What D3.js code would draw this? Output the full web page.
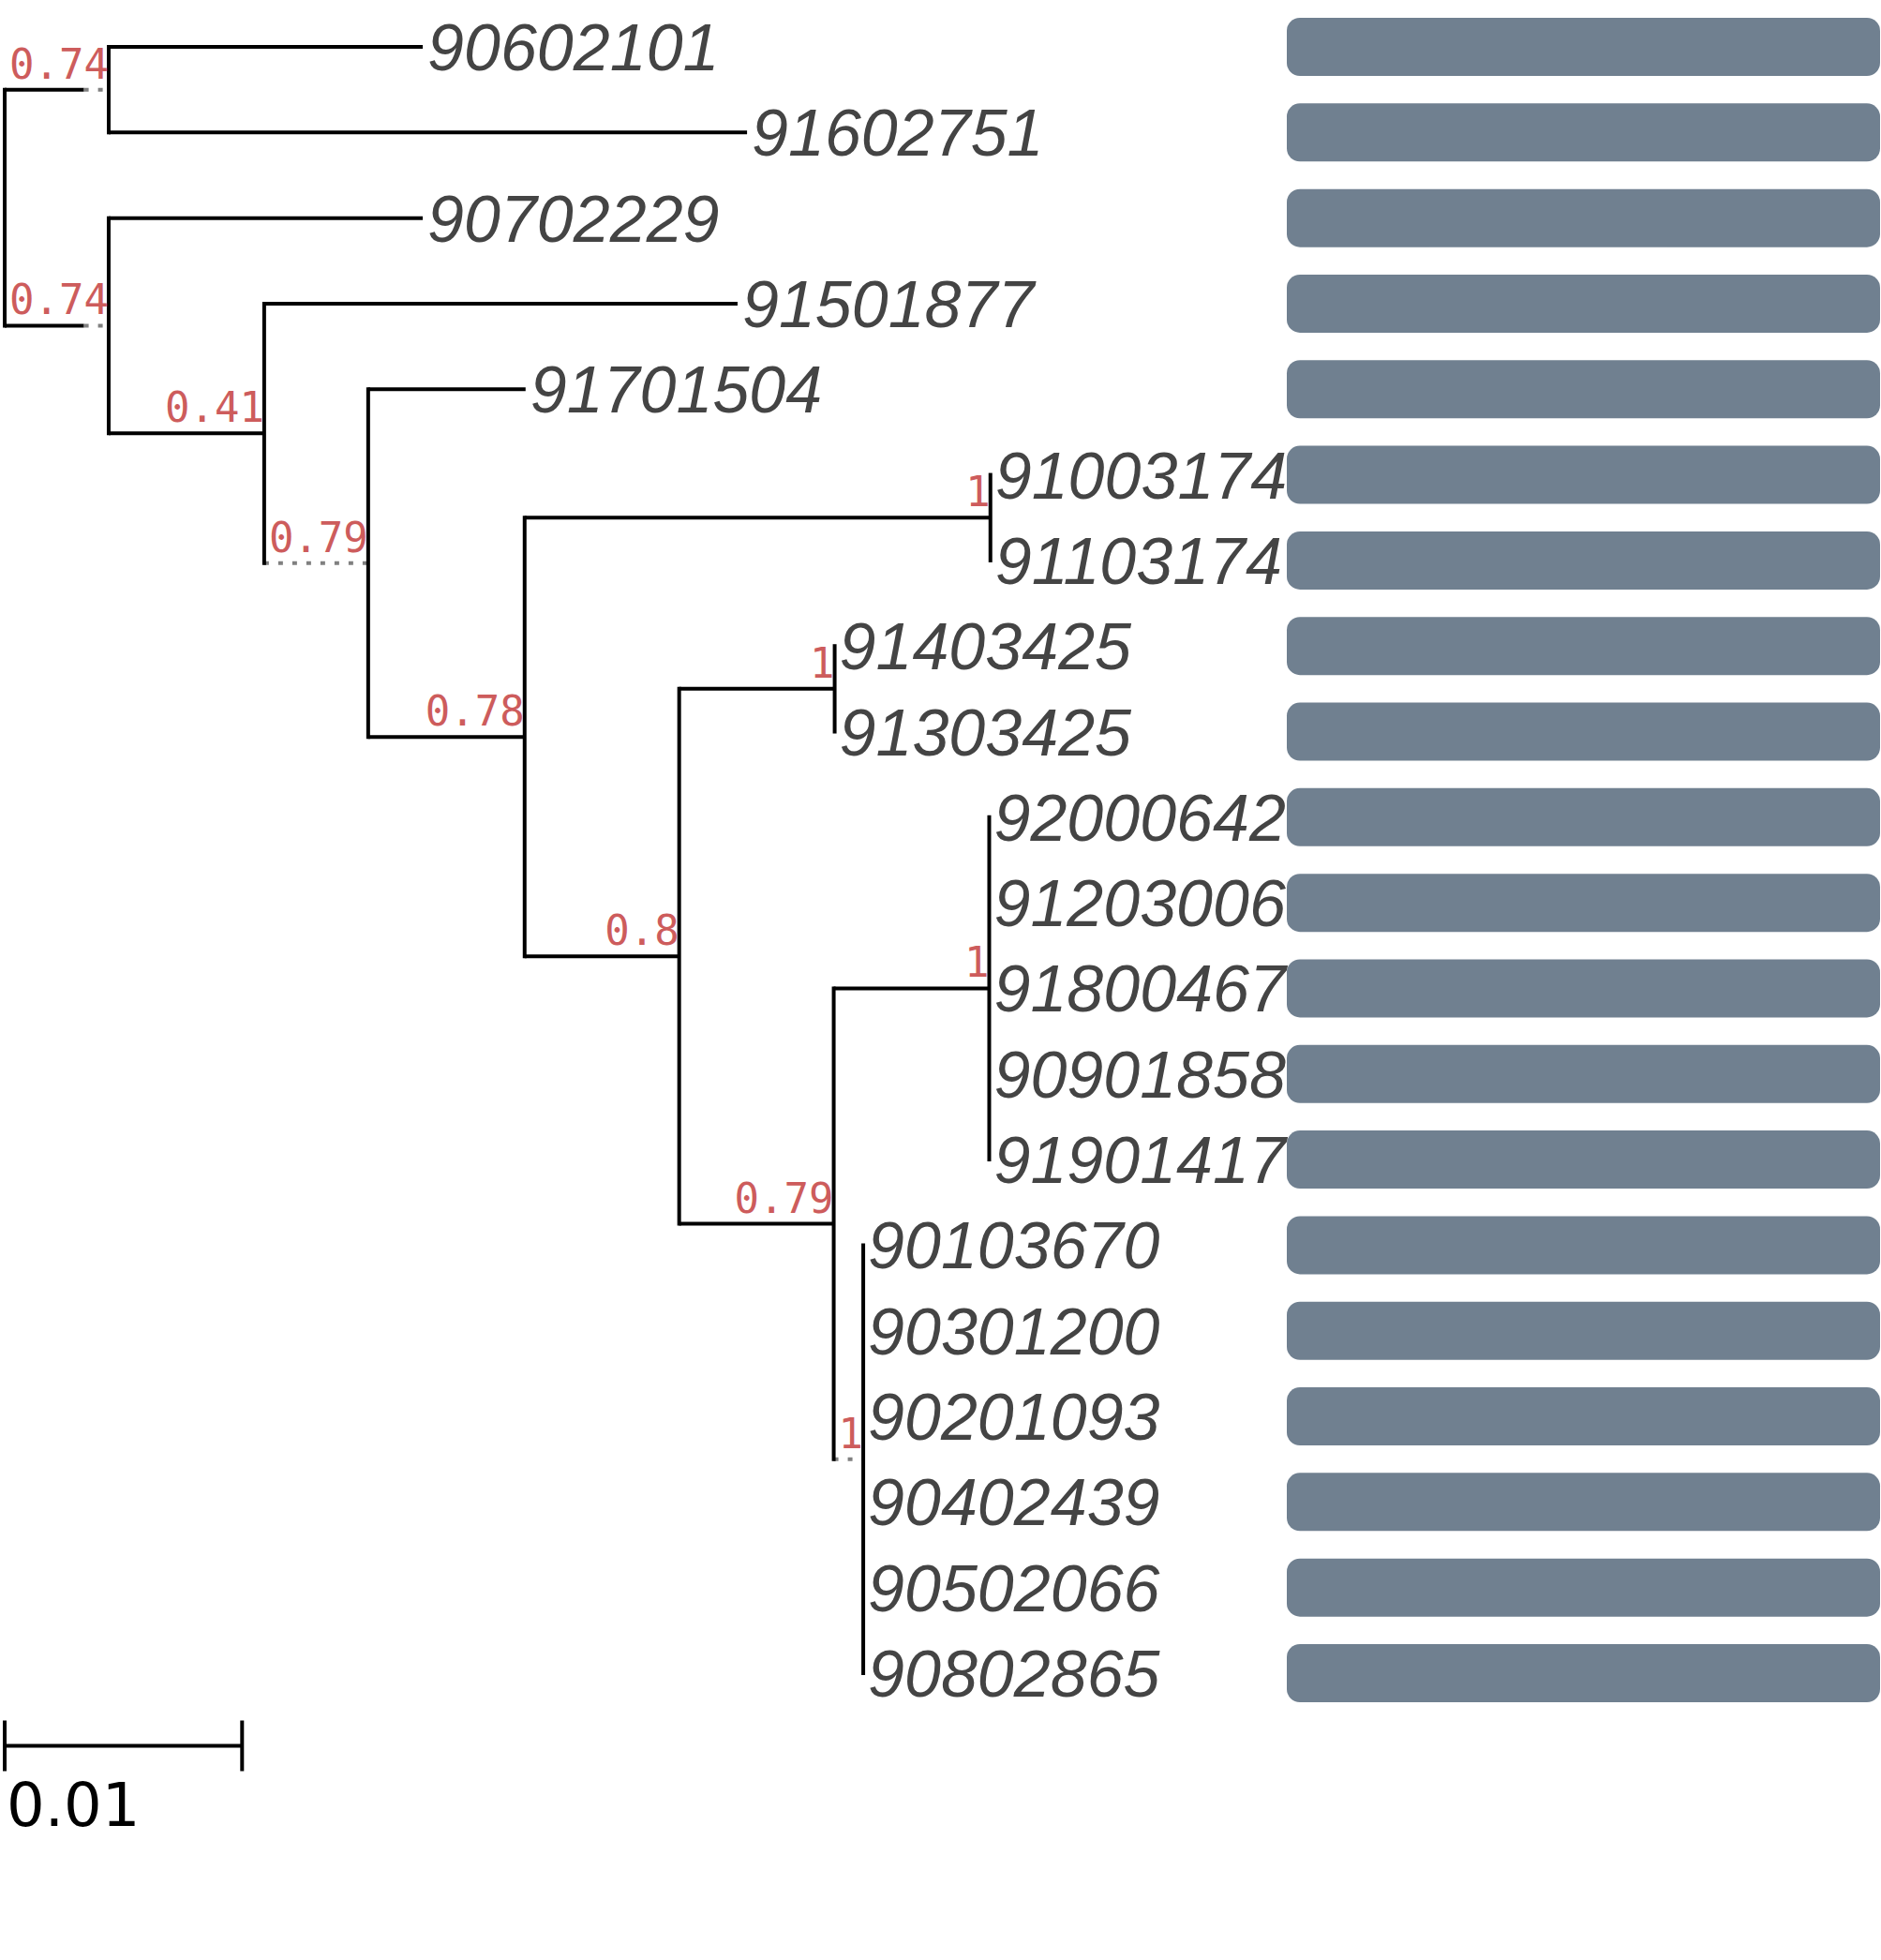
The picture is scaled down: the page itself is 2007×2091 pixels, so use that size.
<!DOCTYPE html>
<html>
<head>
<meta charset="utf-8">
<script src="https://cdn.jsdelivr.net/npm/d3@7"></script>
<style>
  body { margin: 0; background: #fff; }
</style>
</head>
<body>
<svg id="tree"></svg>
<script>
// leaves, top to bottom
const leafNames = [
  "90602101", "91602751", "90702229", "91501877", "91701504",
  "91003174", "91103174", "91403425", "91303425",
  "92000642", "91203006", "91800467", "90901858", "91901417",
  "90103670", "90301200", "90201093", "90402439", "90502066", "90802865"
];
const leafParents = [
  "n1", "n1", "n2", "n3", "n4",
  "n6", "n6", "n8", "n8",
  "n10", "n10", "n10", "n10", "n10",
  "n11", "n11", "n11", "n11", "n11", "n11"
];
const leafLengths = [
  0.01323, 0.02689, 0.01323, 0.01994, 0.00663,
  0, 0, 0, 0,
  0, 0, 0, 0, 0,
  0, 0, 0, 0, 0, 0
];

// internal nodes
const internalIds     = ["n0", "n1", "n2", "n3", "n4", "n5", "n6", "n7", "n8", "n9", "n10", "n11"];
const internalParents = [null, "n0", "n0", "n2", "n3", "n4", "n5", "n5", "n7", "n7", "n9", "n9"];
const internalLengths = [0, 0.00334, 0.00334, 0.00655, 0, 0.00659, 0.01962, 0.00651, 0.00655, 0.00651, 0.00655, 0];
const internalSupport = [null, 0.74, 0.74, 0.41, 0.79, 0.78, 1, 0.8, 1, 0.79, 1, 1];

// bar column (all the same)
const barValues = leafNames.map(() => 1);

const scaleBarValue = 0.01;

function drawTree(svgSelector, width, height) {
  const svg = d3.select(svgSelector)
    .attr("width", width)
    .attr("height", height)
    .attr("viewBox", `0 0 ${width} ${height}`);

  svg.selectAll("*").remove();
  svg.append("rect").attr("width", width).attr("height", height).attr("fill", "#fff");

  const x0 = 5;
  const lineW = 4;
  const supportFont = "'DejaVu Sans Mono', monospace";
  const supportSize = 44;

  // rows for stratify
  const rows = [];
  internalIds.forEach((id, i) => rows.push({ id: id, parent: internalParents[i], len: internalLengths[i], support: internalSupport[i] }));
  leafNames.forEach((id, i) => rows.push({ id: id, parent: leafParents[i], len: leafLengths[i], support: null }));

  const root = d3.stratify().id(d => d.id).parentId(d => d.parent)(rows);

  // keep the leaf order of the picture
  root.each(d => { d.order = d3.min(d.leaves(), l => leafNames.indexOf(l.id)); });
  root.sort((a, b) => a.order - b.order);

  // scales
  const x = d3.scaleLinear().domain([0, 0.01]).range([0, 253.3]);
  const y = d3.scalePoint().domain(leafNames).range([50, 1785]);

  // measure support text widths
  const meas = svg.append("text")
    .style("font-family", supportFont)
    .style("font-size", supportSize + "px");
  function textW(s) { meas.text(s); return meas.node().getComputedTextLength(); }

  root.eachBefore(d => {
    if (!d.parent) { d.px = x0; d.solidEnd = x0; return; }
    const bl = x(d.data.len);
    const ext = d.data.support != null ? textW(String(d.data.support)) + 5 : 0;
    d.solidEnd = d.parent.px + bl;
    d.px = d.parent.px + Math.max(bl, ext);
  });
  meas.remove();

  root.eachAfter(d => {
    if (!d.children) d.py = y(d.id);
    else d.py = (d.children[0].py + d.children[d.children.length - 1].py) / 2;
  });

  const g = svg.append("g");
  const nodes = root.descendants();

  // horizontal branches
  g.selectAll(".hbranch")
    .data(nodes.filter(d => d.parent))
    .enter().append("line")
    .attr("class", "hbranch")
    .attr("x1", d => d.parent.px)
    .attr("x2", d => d.solidEnd)
    .attr("y1", d => d.py)
    .attr("y2", d => d.py)
    .style("stroke", "#000")
    .style("stroke-width", lineW);

  // dotted extensions when the support text is wider than the branch
  g.selectAll(".ext")
    .data(nodes.filter(d => d.parent && d.px - d.solidEnd > 0.5))
    .enter().append("line")
    .attr("class", "ext")
    .attr("x1", d => d.solidEnd)
    .attr("x2", d => d.px)
    .attr("y1", d => d.py)
    .attr("y2", d => d.py)
    .style("stroke", "#808080")
    .style("stroke-width", lineW)
    .style("stroke-dasharray", "5,10");

  // vertical lines
  g.selectAll(".vbranch")
    .data(nodes.filter(d => d.children))
    .enter().append("line")
    .attr("class", "vbranch")
    .attr("x1", d => d.px)
    .attr("x2", d => d.px)
    .attr("y1", d => d.children[0].py - lineW / 2)
    .attr("y2", d => d.children[d.children.length - 1].py + lineW / 2)
    .style("stroke", "#000")
    .style("stroke-width", lineW);

  // support values
  g.selectAll(".support")
    .data(nodes.filter(d => d.parent && d.data.support != null))
    .enter().append("text")
    .attr("class", "support")
    .attr("x", d => d.px)
    .attr("y", d => d.py - 12)
    .attr("text-anchor", "end")
    .style("font-family", supportFont)
    .style("font-size", supportSize + "px")
    .style("fill", "#cd5c5c")
    .text(d => d.data.support);

  // leaf names
  g.selectAll(".leaf")
    .data(root.leaves())
    .enter().append("text")
    .attr("class", "leaf")
    .attr("x", d => d.px + 5)
    .attr("y", d => d.py + 25)
    .style("font-family", "'Liberation Sans', Arial, sans-serif")
    .style("font-style", "italic")
    .style("font-size", "70px")
    .style("fill", "#444")
    .text(d => d.id);

  // aligned bars
  const barX = 1373;
  const barW = d3.scaleLinear().domain([0, 1]).range([0, 633]);
  const barH = 62;
  g.selectAll(".bar")
    .data(leafNames.map((n, i) => ({ name: n, value: barValues[i] })))
    .enter().append("rect")
    .attr("class", "bar")
    .attr("x", barX)
    .attr("y", d => y(d.name) - barH / 2)
    .attr("width", d => barW(d.value))
    .attr("height", barH)
    .attr("rx", 14)
    .attr("ry", 14)
    .style("fill", "#708090");

  // scale bar
  const sb = svg.append("g").attr("transform", `translate(${x0},1862.5)`);
  const sbLen = x(scaleBarValue);
  sb.append("line").attr("x1", 0).attr("x2", sbLen).attr("y1", 0).attr("y2", 0)
    .style("stroke", "#000").style("stroke-width", lineW);
  [0, sbLen].forEach(t => {
    sb.append("line").attr("x1", t).attr("x2", t).attr("y1", -27).attr("y2", 27)
      .style("stroke", "#000").style("stroke-width", lineW);
  });
  sb.append("text")
    .attr("x", 2)
    .attr("y", 85)
    .style("font-family", "'DejaVu Sans', sans-serif")
    .style("font-size", "64px")
    .style("fill", "#000")
    .text(scaleBarValue);
}

drawTree("#tree", 2007, 2091);
</script>
</body>
</html>
